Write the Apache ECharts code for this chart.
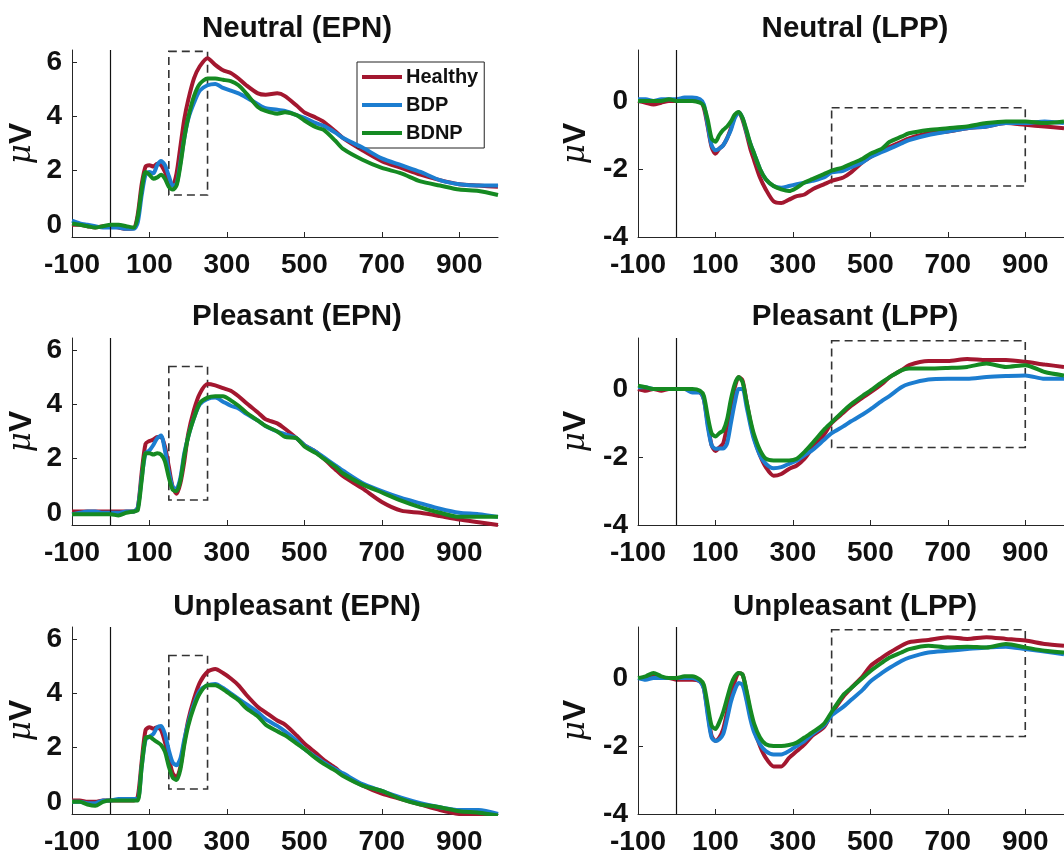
<!DOCTYPE html>
<html>
<head>
<meta charset="utf-8">
<script src="https://cdn.jsdelivr.net/npm/echarts@6/dist/echarts.min.js"></script>
<style>
html,body{margin:0;padding:0;background:#fff;}
#chart{width:1064px;height:861px;}
</style>
</head>
<body>
<div id="chart"></div>
<script>
// time points (ms)
const times = [-100,-80,-60,-40,-20,0,20,40,60,70,80,90,100,110,120,130,140,150,160,170,180,190,200,215,230,250,270,290,310,330,350,380,400,430,450,480,500,530,550,580,600,650,700,750,800,850,900,950,1000];

const groups = ['Healthy','BDP','BDNP'];
const panelTitles = ['Neutral (EPN)','Neutral (LPP)','Pleasant (EPN)','Pleasant (LPP)','Unpleasant (EPN)','Unpleasant (LPP)'];
const xTickLabels = [-100,100,300,500,700,900];
const epnYTicks = [0,2,4,6];
const lppYTicks = [-4,-2,0];
const epnYRange = [-0.45, 6.45];
const lppYRange = [-4, 1.5];
const xRange = [-100, 1000];

// analysis windows [x0, x1, y0, y1]
const boxNeutralEPN = [150, 250, 1.1, 6.4];
const boxPleasantEPN = [150, 250, 0.47, 5.4];
const boxUnpleasantEPN = [150, 250, 0.47, 5.4];
const boxNeutralLPP = [400, 900, -2.5, -0.2];
const boxPleasantLPP = [400, 900, -1.72, 1.42];
const boxUnpleasantLPP = [400, 900, -1.72, 1.42];

// Neutral EPN
const neutralEPN_Healthy = [0.0,0.0,-0.05,-0.1,-0.05,-0.05,-0.1,-0.15,-0.12,0.4,1.5,2.15,2.2,2.15,2.25,2.2,1.95,1.6,1.45,1.9,2.9,3.9,4.6,5.4,5.85,6.15,5.9,5.7,5.6,5.4,5.15,4.85,4.8,4.85,4.75,4.4,4.15,3.95,3.8,3.45,3.2,2.75,2.35,2.1,1.85,1.65,1.5,1.45,1.4];
const neutralEPN_BDP = [0.15,0.05,0.0,-0.05,-0.1,-0.1,-0.1,-0.15,-0.15,0.1,1.1,1.85,1.95,1.9,2.2,2.35,2.2,1.8,1.45,1.5,2.3,3.2,3.9,4.5,4.95,5.15,5.2,5.05,4.95,4.85,4.7,4.45,4.3,4.25,4.2,4.05,3.95,3.75,3.65,3.4,3.2,2.85,2.45,2.2,1.95,1.65,1.5,1.45,1.45];
const neutralEPN_BDNP = [0.05,0.0,-0.05,-0.1,-0.05,0.0,0.0,-0.05,-0.1,0.3,1.3,1.95,1.85,1.7,1.75,1.85,1.7,1.4,1.3,1.45,2.2,3.2,3.95,4.75,5.2,5.4,5.4,5.35,5.3,5.15,4.85,4.35,4.2,4.1,4.15,4.05,3.85,3.6,3.5,3.1,2.8,2.4,2.1,1.9,1.6,1.45,1.3,1.25,1.1];

// Pleasant EPN
const pleasantEPN_Healthy = [0.05,0.05,0.05,0.05,0.05,0.05,0.05,0.05,0.05,0.2,1.5,2.55,2.65,2.7,2.8,2.8,2.45,1.7,0.95,0.7,1.1,1.9,2.9,3.8,4.4,4.75,4.7,4.6,4.5,4.3,4.05,3.7,3.45,3.3,3.1,2.75,2.5,2.25,2.0,1.6,1.35,0.9,0.4,0.08,0.0,-0.12,-0.25,-0.35,-0.45];
const pleasantEPN_BDP = [-0.05,0.0,0.05,0.05,0.0,0.0,0.0,0.05,0.05,0.2,1.3,2.2,2.3,2.5,2.75,2.85,2.3,1.5,0.95,0.9,1.3,2.2,2.8,3.5,4.0,4.2,4.25,4.1,3.95,3.85,3.65,3.4,3.2,3.0,2.9,2.75,2.5,2.25,2.05,1.75,1.55,1.1,0.8,0.55,0.35,0.15,0.0,-0.05,-0.15];
const pleasantEPN_BDNP = [-0.05,-0.05,-0.05,-0.05,-0.05,-0.05,-0.1,0.0,0.05,0.1,1.2,2.2,2.2,2.15,2.2,2.15,1.9,1.3,0.85,0.8,1.2,2.1,2.8,3.5,4.05,4.25,4.3,4.3,4.15,3.95,3.7,3.4,3.2,3.0,2.8,2.75,2.45,2.2,2.0,1.7,1.45,1.05,0.75,0.45,0.2,0.0,-0.15,-0.15,-0.15];

// Unpleasant EPN
const unpleasantEPN_Healthy = [0.05,0.05,0.0,0.0,0.05,0.05,0.05,0.05,0.05,0.2,1.5,2.65,2.75,2.7,2.75,2.65,2.2,1.6,1.05,0.9,1.3,2.2,3.0,3.8,4.4,4.8,4.9,4.75,4.55,4.3,3.95,3.5,3.3,3.0,2.85,2.45,2.15,1.8,1.55,1.25,1.0,0.6,0.3,0.1,-0.1,-0.3,-0.45,-0.5,-0.6];
const unpleasantEPN_BDP = [0.0,0.0,-0.05,-0.05,0.05,0.05,0.1,0.1,0.1,0.1,1.3,2.3,2.4,2.5,2.75,2.8,2.5,1.9,1.45,1.35,1.6,2.3,2.9,3.6,4.1,4.3,4.35,4.2,4.0,3.8,3.6,3.3,3.05,2.8,2.6,2.25,1.95,1.65,1.45,1.2,1.05,0.65,0.4,0.15,-0.05,-0.2,-0.3,-0.3,-0.45];
const unpleasantEPN_BDNP = [0.0,0.0,-0.1,-0.15,0.0,0.05,0.05,0.05,0.05,0.05,1.3,2.35,2.4,2.3,2.2,2.1,1.85,1.3,0.9,0.8,1.2,2.1,2.8,3.5,4.0,4.3,4.3,4.15,3.95,3.75,3.45,3.15,2.85,2.6,2.45,2.15,1.95,1.6,1.4,1.15,0.95,0.6,0.4,0.1,-0.1,-0.2,-0.35,-0.4,-0.5];

// Neutral LPP
const neutralLPP_Healthy = [0.0,-0.05,-0.1,-0.05,0.0,0.0,0.05,0.05,0.0,-0.2,-0.75,-1.35,-1.55,-1.4,-1.3,-1.1,-0.8,-0.45,-0.33,-0.55,-0.95,-1.4,-1.75,-2.25,-2.6,-2.95,-3.0,-2.9,-2.8,-2.75,-2.6,-2.45,-2.35,-2.25,-2.1,-1.8,-1.65,-1.45,-1.35,-1.2,-1.1,-0.95,-0.9,-0.8,-0.75,-0.65,-0.7,-0.75,-0.8];
const neutralLPP_BDP = [0.05,0.05,0.0,0.05,0.05,0.05,0.1,0.1,0.05,-0.1,-0.7,-1.3,-1.45,-1.4,-1.3,-1.1,-0.85,-0.5,-0.33,-0.5,-0.9,-1.25,-1.55,-2.0,-2.3,-2.5,-2.55,-2.5,-2.45,-2.4,-2.35,-2.25,-2.1,-2.05,-1.95,-1.8,-1.65,-1.5,-1.4,-1.25,-1.15,-1.0,-0.9,-0.8,-0.75,-0.65,-0.65,-0.6,-0.65];
const neutralLPP_BDNP = [0.0,0.0,0.0,0.0,0.05,0.0,0.0,0.0,-0.05,-0.15,-0.55,-1.1,-1.2,-1.0,-0.85,-0.75,-0.6,-0.4,-0.32,-0.5,-0.85,-1.25,-1.55,-2.0,-2.3,-2.5,-2.6,-2.65,-2.55,-2.4,-2.3,-2.15,-2.05,-1.95,-1.85,-1.7,-1.55,-1.4,-1.2,-1.05,-0.95,-0.85,-0.8,-0.75,-0.65,-0.6,-0.6,-0.65,-0.6];

// Pleasant LPP
const pleasantLPP_Healthy = [0.0,-0.05,0.0,-0.05,0.0,0.0,0.0,-0.05,-0.1,-0.3,-1.0,-1.65,-1.82,-1.72,-1.6,-1.1,-0.5,0.05,0.35,0.25,-0.35,-0.95,-1.45,-1.95,-2.3,-2.55,-2.5,-2.35,-2.25,-2.05,-1.75,-1.35,-1.0,-0.7,-0.5,-0.25,-0.1,0.15,0.35,0.55,0.7,0.82,0.82,0.88,0.85,0.85,0.8,0.72,0.65];
const pleasantLPP_BDP = [0.05,0.05,0.0,0.0,0.0,0.0,0.0,-0.1,-0.1,-0.3,-1.1,-1.65,-1.76,-1.75,-1.75,-1.6,-1.0,-0.4,0.0,0.0,-0.5,-1.05,-1.5,-1.95,-2.2,-2.33,-2.3,-2.2,-2.1,-1.95,-1.8,-1.5,-1.3,-1.1,-0.95,-0.75,-0.6,-0.35,-0.2,0.05,0.15,0.28,0.3,0.3,0.35,0.38,0.4,0.3,0.3];
const pleasantLPP_BDNP = [0.1,0.05,0.0,0.0,0.0,0.0,0.0,0.0,-0.05,-0.2,-0.8,-1.3,-1.4,-1.3,-1.22,-0.9,-0.3,0.15,0.35,0.2,-0.35,-0.9,-1.35,-1.8,-2.05,-2.1,-2.1,-2.1,-2.05,-1.85,-1.6,-1.2,-0.98,-0.65,-0.45,-0.2,-0.05,0.2,0.35,0.55,0.6,0.6,0.62,0.65,0.75,0.65,0.7,0.5,0.4];

// Unpleasant LPP
const unpleasantLPP_Healthy = [0.0,0.0,0.05,0.0,0.0,-0.05,-0.05,-0.05,-0.1,-0.3,-1.0,-1.7,-1.85,-1.75,-1.5,-1.0,-0.5,-0.1,0.15,0.1,-0.4,-1.0,-1.5,-2.0,-2.35,-2.6,-2.6,-2.35,-2.15,-1.95,-1.7,-1.45,-1.05,-0.55,-0.3,0.05,0.35,0.6,0.75,0.95,1.05,1.12,1.2,1.15,1.2,1.15,1.1,1.0,0.95];
const unpleasantLPP_BDP = [0.0,-0.05,0.0,0.0,0.0,0.0,0.0,0.0,-0.1,-0.3,-1.1,-1.75,-1.85,-1.8,-1.65,-1.2,-0.7,-0.35,-0.15,-0.2,-0.65,-1.2,-1.6,-1.95,-2.15,-2.25,-2.25,-2.15,-2.0,-1.85,-1.65,-1.4,-1.1,-0.85,-0.65,-0.35,-0.1,0.15,0.3,0.5,0.6,0.75,0.8,0.85,0.9,0.92,0.85,0.78,0.7];
const unpleasantLPP_BDNP = [0.0,0.05,0.15,0.05,0.0,0.0,0.05,0.05,-0.05,-0.2,-0.8,-1.4,-1.5,-1.3,-1.0,-0.6,-0.2,0.05,0.15,0.1,-0.35,-0.9,-1.35,-1.75,-1.95,-2.0,-2.0,-1.97,-1.9,-1.75,-1.6,-1.35,-1.0,-0.5,-0.3,0.0,0.2,0.45,0.6,0.75,0.85,0.95,0.9,0.92,0.9,1.0,0.9,0.8,0.75];

const colors = ['#a3172f', '#1c7dd0', '#158a22'];

const panels = [
  {data:[neutralEPN_Healthy, neutralEPN_BDP, neutralEPN_BDNP], box: boxNeutralEPN, kind:'epn'},
  {data:[neutralLPP_Healthy, neutralLPP_BDP, neutralLPP_BDNP], box: boxNeutralLPP, kind:'lpp'},
  {data:[pleasantEPN_Healthy, pleasantEPN_BDP, pleasantEPN_BDNP], box: boxPleasantEPN, kind:'epn'},
  {data:[pleasantLPP_Healthy, pleasantLPP_BDP, pleasantLPP_BDNP], box: boxPleasantLPP, kind:'lpp'},
  {data:[unpleasantEPN_Healthy, unpleasantEPN_BDP, unpleasantEPN_BDNP], box: boxUnpleasantEPN, kind:'epn'},
  {data:[unpleasantLPP_Healthy, unpleasantLPP_BDP, unpleasantLPP_BDNP], box: boxUnpleasantLPP, kind:'lpp'}
];

const FONT = '"Liberation Sans", Arial, sans-serif';
const axisColor = '#262626';
const rowTops = [50, 338, 627];
const rowH = 187;
const colLefts = [72, 638];
const colW = [426, 427];
const titleCenters = [292, 850];
const titleTops = [9, 297, 587];

const grids = [], xAxes = [], yAxes = [], titles = [], series = [];

panels.forEach((p, i) => {
  const row = Math.floor(i / 2), col = i % 2;
  grids.push({left: colLefts[col], top: rowTops[row], width: colW[col], height: rowH, containLabel: false});
  titles.push({
    text: panelTitles[i], left: titleCenters[col], top: titleTops[row], textAlign: 'center',
    textStyle: {fontFamily: FONT, fontWeight: 'bold', fontSize: 29.5, color: '#111'}
  });
  xAxes.push({
    type: 'value', gridIndex: i, min: xRange[0], max: xRange[1],
    axisLine: {show: true, onZero: false, lineStyle: {color: axisColor, width: 1}},
    axisTick: {show: true, inside: true, length: 5, customValues: xTickLabels, lineStyle: {color: axisColor}},
    axisLabel: {customValues: xTickLabels, fontFamily: FONT, fontWeight: 'bold', fontSize: 28, color: '#111', margin: 14},
    splitLine: {show: false}
  });
  const yr = p.kind === 'epn' ? epnYRange : lppYRange;
  const yt = p.kind === 'epn' ? epnYTicks : lppYTicks;
  yAxes.push({
    type: 'value', gridIndex: i, min: yr[0], max: yr[1],
    axisLine: {show: true, onZero: false, lineStyle: {color: axisColor, width: 1}},
    axisTick: {show: true, inside: true, length: 5, customValues: yt, lineStyle: {color: axisColor}},
    axisLabel: {customValues: yt, fontFamily: FONT, fontWeight: 'bold', fontSize: 28, color: '#111', margin: 10},
    splitLine: {show: false},
    name: '{mu|μ}{v|V}',
    nameLocation: 'middle', nameRotate: 90,
    nameGap: col === 0 ? 34 : 46,
    nameTextStyle: {
      rich: {
        mu: {fontFamily: '"DejaVu Serif", serif', fontStyle: 'italic', fontSize: 31, color: '#111'},
        v: {fontFamily: FONT, fontWeight: 'bold', fontSize: 32, color: '#111'}
      }
    }
  });
  p.data.forEach((vals, g) => {
    const s = {
      type: 'line', name: groups[g], xAxisIndex: i, yAxisIndex: i,
      data: times.map((t, k) => [t, vals[k]]),
      showSymbol: false, symbol: 'none', smooth: 0.25,
      lineStyle: {width: 4, color: colors[g]}, itemStyle: {color: colors[g]},
      z: 3 + g, animation: false, clip: true
    };
    if (g === 0) {
      s.markLine = {
        silent: true, symbol: 'none', animation: false,
        label: {show: false},
        lineStyle: {color: '#111', width: 1.2, type: 'solid'},
        data: [{xAxis: 0}]
      };
      s.markArea = {
        silent: true, animation: false,
        itemStyle: {color: 'rgba(0,0,0,0)', borderColor: '#333', borderWidth: 1.6, borderType: [8, 5]},
        data: [[{coord: [p.box[0], p.box[3]]}, {coord: [p.box[1], p.box[2]]}]]
      };
    }
    series.push(s);
  });
});

const chart = echarts.init(document.getElementById('chart'), null, {renderer: 'canvas'});
chart.setOption({
  animation: false,
  backgroundColor: '#fff',
  title: titles,
  grid: grids,
  xAxis: xAxes,
  yAxis: yAxes,
  legend: {
    data: groups, orient: 'vertical', left: 357, top: 62,
    icon: 'rect', itemWidth: 40, itemHeight: 4, itemGap: 8,
    borderColor: '#222', borderWidth: 1, padding: [5, 6, 5, 5],
    backgroundColor: '#fff',
    textStyle: {fontFamily: FONT, fontWeight: 'bold', fontSize: 20, color: '#111', padding: [0, 0, 0, -1]}
  },
  series: series
});
</script>
</body>
</html>
